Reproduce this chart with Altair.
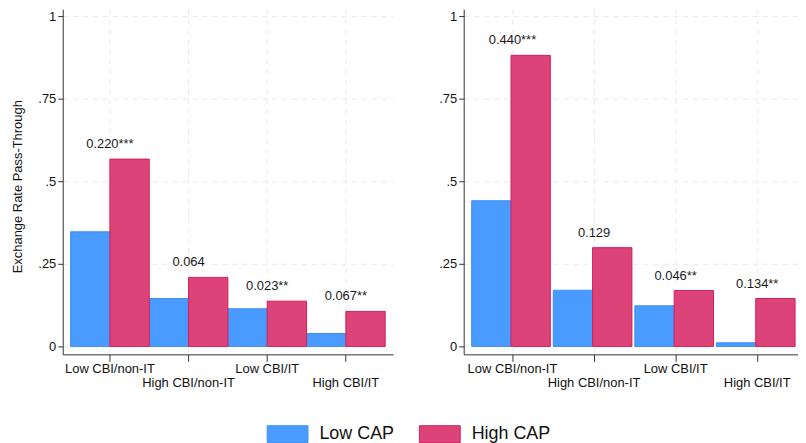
import altair as alt
import pandas as pd

groups = ["Low CBI/non-IT", "High CBI/non-IT", "Low CBI/IT", "High CBI/IT"]
caps = ["Low CAP", "High CAP"]

left_low = [0.347, 0.145, 0.114, 0.039]
left_high = [0.567, 0.209, 0.137, 0.106]
left_labels = ["0.220***", "0.064", "0.023**", "0.067**"]

right_low = [0.441, 0.170, 0.123, 0.011]
right_high = [0.881, 0.299, 0.169, 0.145]
right_labels = ["0.440***", "0.129", "0.046**", "0.134**"]

y_ticks = [0, 0.25, 0.5, 0.75, 1]

FONT = "Liberation Sans"
BLUE, BLUE_EDGE = "#4a9bff", "#3c8ff2"
RED, RED_EDGE = "#dc4379", "#d41d5f"

stagger = "(datum.value == 'High CBI/non-IT' || datum.value == 'High CBI/IT') ? ['', datum.label] : datum.label"
ylab = "datum.value == 0 ? '0' : datum.value == 1 ? '1' : '.' + substring(format(datum.value, '.2~f'), 2)"


def panel(low, high, labels, width, pad_outer, align, ytitle, legend):
    bars = pd.DataFrame({
        "group": groups * 2,
        "cap": [caps[0]] * len(groups) + [caps[1]] * len(groups),
        "value": low + high,
    })
    labs = pd.DataFrame({"group": groups, "top": high, "label": labels})

    xscale = alt.Scale(domain=groups, paddingInner=0, paddingOuter=pad_outer, align=align)
    xaxis = alt.Axis(title=None, labelAngle=0, labelExpr=stagger, labelLineHeight=14,
                     labelPadding=1, tickSize=7, grid=True)
    yscale = alt.Scale(domain=[-0.024, 1.021], nice=False, zero=False)
    if ytitle:
        yaxis = alt.Axis(values=y_ticks, labelExpr=ylab, title=ytitle, titlePadding=13,
                         titleY=178, tickSize=5, labelPadding=2, grid=True)
    else:
        yaxis = alt.Axis(values=y_ticks, labelExpr=ylab, title=None,
                         tickSize=5, labelPadding=2, grid=True)

    if legend:
        leg = alt.Legend(title=None, orient="none", direction="horizontal",
                         legendX=205, legendY=406,
                         symbolType="M-1,-0.415H1V0.415H-1Z", symbolSize=1681,
                         symbolStrokeWidth=1, labelFontSize=18, labelOffset=11,
                         columnPadding=22, labelFont=FONT, labelColor="#111")
    else:
        leg = None

    color = alt.Color("cap:N", scale=alt.Scale(domain=caps, range=[BLUE, RED]), legend=leg)
    stroke = alt.Stroke("cap:N", scale=alt.Scale(domain=caps, range=[BLUE_EDGE, RED_EDGE]), legend=None)

    b = alt.Chart(bars).mark_bar(strokeWidth=1).encode(
        x=alt.X("group:N", scale=xscale, axis=xaxis, sort=groups),
        xOffset=alt.XOffset("cap:N", sort=caps, scale=alt.Scale(domain=caps, paddingInner=0, paddingOuter=0)),
        y=alt.Y("value:Q", scale=yscale, axis=yaxis),
        y2=alt.datum(0),
        color=color,
        stroke=stroke,
    )
    t = alt.Chart(labs).mark_text(dy=-11, fontSize=13, font=FONT, color="#1a1a1a", baseline="alphabetic").encode(
        x=alt.X("group:N", scale=xscale, sort=groups),
        y=alt.Y("top:Q", scale=yscale),
        text="label:N",
    )
    return alt.layer(b, t).properties(width=width, height=347)


left = panel(left_low, left_high, left_labels, 332, 0.1, 0.5, "Exchange Rate Pass-Through", True)
right = panel(right_low, right_high, right_labels, 336, 0.049, 1, None, False)

chart = alt.hconcat(left, right, spacing=45).resolve_scale(
    color="shared", stroke="shared"
).properties(
    padding={"left": 3, "top": 0, "right": 0, "bottom": 0}
).configure_view(stroke=None).configure_axis(
    labelFont=FONT, titleFont=FONT, labelFontSize=13, titleFontSize=13,
    titleFontWeight="normal", labelColor="#111", titleColor="#111",
    domainColor="#333", tickColor="#333", domainWidth=1,
    gridColor="#e9e9e9", gridDash=[5, 5], gridWidth=1,
).configure_text(font=FONT)

chart.save("out.html", embed_options={"renderer": "svg", "actions": False})
